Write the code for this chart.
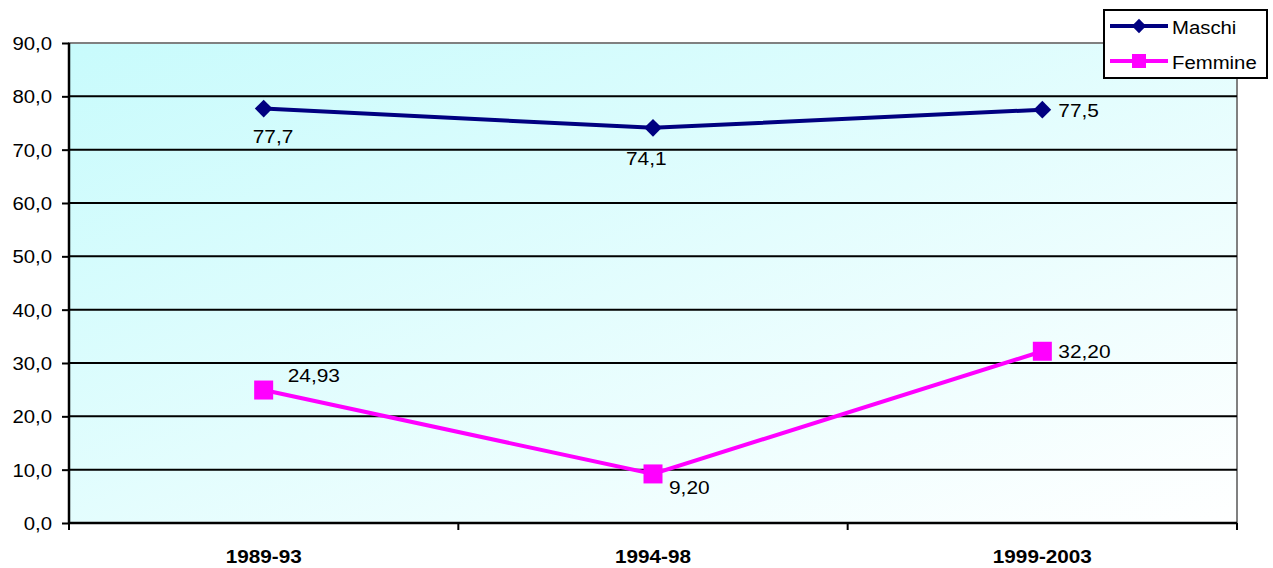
<!DOCTYPE html>
<html>
<head>
<meta charset="utf-8">
<script src="https://cdn.jsdelivr.net/npm/d3@7"></script>
<style>
  body { margin: 0; background: #fff; }
  text { font-family: "Liberation Sans", Arial, sans-serif; fill: #000; }
</style>
</head>
<body>
<script>
const width = 1273;
const height = 568;
const margin = { top: 43, right: 36, bottom: 45, left: 69 };

const periods = ["1989-93", "1994-98", "1999-2003"];
const maschi = [77.7, 74.1, 77.5];
const femmine = [24.93, 9.2, 32.2];
const maschiLabels = ["77,7", "74,1", "77,5"];
const femmineLabels = ["24,93", "9,20", "32,20"];
const yTicks = [0, 10, 20, 30, 40, 50, 60, 70, 80, 90];

// the original text is a bit stretched horizontally
const sx = 1.13;

const x = d3
  .scaleBand()
  .domain(periods)
  .range([margin.left, width - margin.right]);

const y = d3
  .scaleLinear()
  .domain([0, 90])
  .range([height - margin.bottom, margin.top]);

const cx = (d) => x(d) + x.bandwidth() / 2;

const svg = d3
  .select("body")
  .append("svg")
  .attr("width", width)
  .attr("height", height);

const grad = svg
  .append("defs")
  .append("linearGradient")
  .attr("id", "bg")
  .attr("x1", "0%")
  .attr("y1", "0%")
  .attr("x2", "100%")
  .attr("y2", "100%");
grad.append("stop").attr("offset", "0%").attr("stop-color", "#c8fbfc");
grad.append("stop").attr("offset", "100%").attr("stop-color", "#ffffff");

// plot area
svg
  .append("rect")
  .attr("x", margin.left)
  .attr("y", margin.top)
  .attr("width", width - margin.right - margin.left)
  .attr("height", height - margin.bottom - margin.top)
  .attr("fill", "url(#bg)")
  .attr("stroke", "#808080")
  .attr("stroke-width", 2);

// gridlines
svg
  .append("g")
  .selectAll("line")
  .data(yTicks.filter((t) => t > 0 && t < 90))
  .join("line")
  .attr("x1", margin.left)
  .attr("x2", width - margin.right)
  .attr("y1", (d) => y(d))
  .attr("y2", (d) => y(d))
  .attr("stroke", "#000")
  .attr("stroke-width", 2);

// y axis
const yAxis = svg
  .append("g")
  .attr("transform", `translate(${margin.left},0)`)
  .call(
    d3
      .axisLeft(y)
      .tickValues(yTicks)
      .tickSize(7)
      .tickFormat((d) => d3.format(".1f")(d).replace(".", ","))
  );
yAxis.select(".domain").attr("stroke", "#000").attr("stroke-width", 2.5).attr("d", `M0,${y(90)}V${y(0)}`);
yAxis.selectAll(".tick line").attr("stroke", "#000").attr("stroke-width", 2);
yAxis
  .selectAll(".tick text")
  .attr("font-size", 18)
  .attr("fill", "#000")
  .attr("x", null)
  .attr("dy", null)
  .attr("transform", `translate(-17,6.5) scale(${sx},1)`)
  .style("font-family", "Liberation Sans, Arial, sans-serif");

// x axis
const xAxis = svg
  .append("g")
  .attr("transform", `translate(0,${height - margin.bottom})`);
xAxis
  .append("line")
  .attr("x1", margin.left)
  .attr("x2", width - margin.right)
  .attr("stroke", "#000")
  .attr("stroke-width", 2.5);
const bounds = periods.map((p) => x(p)).concat([width - margin.right]);
xAxis
  .selectAll("line.tk")
  .data(bounds)
  .join("line")
  .attr("class", "tk")
  .attr("x1", (d) => d)
  .attr("x2", (d) => d)
  .attr("y1", 0)
  .attr("y2", 7)
  .attr("stroke", "#000")
  .attr("stroke-width", 2);
xAxis
  .selectAll("text")
  .data(periods)
  .join("text")
  .attr("transform", (d) => `translate(${cx(d)},40) scale(1.09,1)`)
  .attr("text-anchor", "middle")
  .attr("font-size", 19)
  .attr("font-weight", "bold")
  .text((d) => d);

const line = d3
  .line()
  .x((d, i) => cx(periods[i]))
  .y((d) => y(d));

// Maschi
svg
  .append("path")
  .datum(maschi)
  .attr("fill", "none")
  .attr("stroke", "#000080")
  .attr("stroke-width", 4)
  .attr("d", line);
svg
  .append("g")
  .selectAll("path")
  .data(maschi)
  .join("path")
  .attr("d", d3.symbol(d3.symbolDiamond2, 200)())
  .attr("transform", (d, i) => `translate(${cx(periods[i])},${y(d)})`)
  .attr("fill", "#000080");

// Femmine
svg
  .append("path")
  .datum(femmine)
  .attr("fill", "none")
  .attr("stroke", "#ff00ff")
  .attr("stroke-width", 4)
  .attr("d", line);
svg
  .append("g")
  .selectAll("rect")
  .data(femmine)
  .join("rect")
  .attr("x", (d, i) => cx(periods[i]) - 9.5)
  .attr("y", (d) => y(d) - 9.5)
  .attr("width", 19)
  .attr("height", 19)
  .attr("fill", "#ff00ff");

// data labels
const mOff = [[-11, 34.5], [-27, 37], [16, 7]];
svg
  .append("g")
  .selectAll("text")
  .data(maschi)
  .join("text")
  .attr("transform", (d, i) => `translate(${cx(periods[i]) + mOff[i][0]},${y(d) + mOff[i][1]}) scale(${sx},1)`)
  .attr("font-size", 18.5)
  .text((d, i) => maschiLabels[i]);

const fOff = [[24, -8], [16, 20], [16, 6.5]];
svg
  .append("g")
  .selectAll("text")
  .data(femmine)
  .join("text")
  .attr("transform", (d, i) => `translate(${cx(periods[i]) + fOff[i][0]},${y(d) + fOff[i][1]}) scale(${sx},1)`)
  .attr("font-size", 18.5)
  .text((d, i) => femmineLabels[i]);

// legend
const legend = svg.append("g").attr("transform", "translate(1104,10)");
legend
  .append("rect")
  .attr("width", 163)
  .attr("height", 68)
  .attr("fill", "#fff")
  .attr("stroke", "#000")
  .attr("stroke-width", 2);
const items = [
  { name: "Maschi", color: "#000080", shape: "diamond" },
  { name: "Femmine", color: "#ff00ff", shape: "square" },
];
const li = legend
  .selectAll("g")
  .data(items)
  .join("g")
  .attr("transform", (d, i) => `translate(0,${16 + i * 35})`);
li.append("line")
  .attr("x1", 6)
  .attr("x2", 64)
  .attr("stroke", (d) => d.color)
  .attr("stroke-width", 4);
li.filter((d) => d.shape === "diamond")
  .append("path")
  .attr("d", d3.symbol(d3.symbolDiamond2, 130)())
  .attr("transform", "translate(35,0)")
  .attr("fill", (d) => d.color);
li.filter((d) => d.shape === "square")
  .append("rect")
  .attr("x", 28)
  .attr("y", -7)
  .attr("width", 14)
  .attr("height", 14)
  .attr("fill", (d) => d.color);
li.append("text")
  .attr("transform", `translate(68,7.5) scale(${sx},1)`)
  .attr("font-size", 18)
  .text((d) => d.name);
</script>
</body>
</html>
